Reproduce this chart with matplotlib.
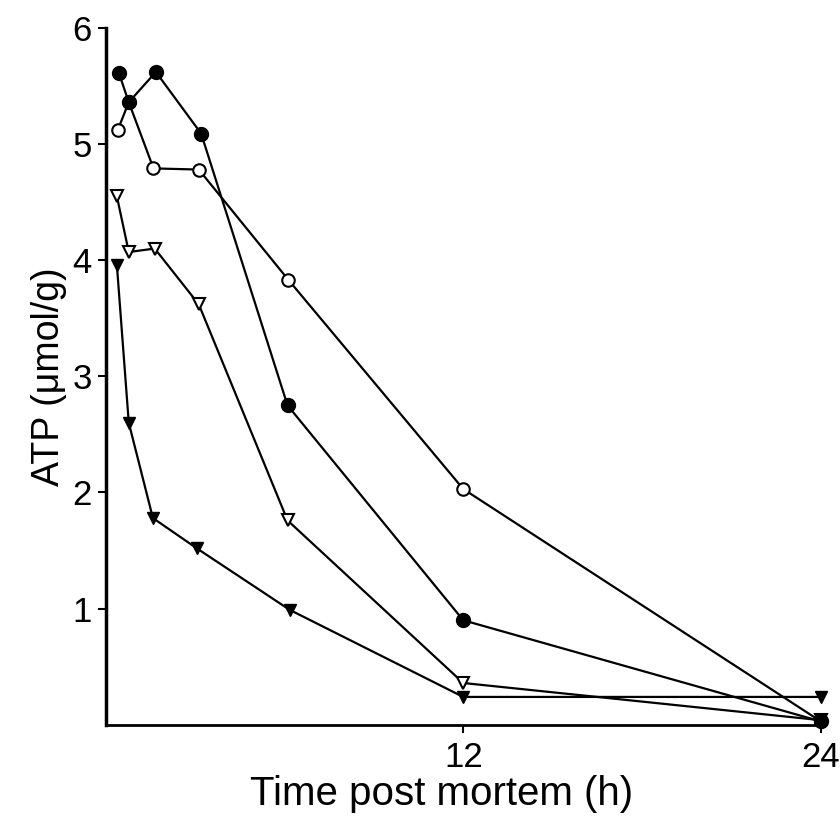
import matplotlib
matplotlib.use("Agg")
import matplotlib.pyplot as plt

plt.rcParams['font.family'] = ['Liberation Sans', 'DejaVu Sans']

# Data (time in h, ATP in umol/g)
t_filled_circle = [0.44, 0.77, 1.68, 3.2, 6.1, 12, 24]
atp_filled_circle = [5.61, 5.36, 5.62, 5.09, 2.75, 0.90, 0.03]

t_open_circle = [0.40, 0.77, 1.6, 3.12, 6.13, 12, 24]
atp_open_circle = [5.12, 5.36, 4.79, 4.78, 3.83, 2.03, 0.03]

t_open_tri = [0.37, 0.77, 1.64, 3.12, 6.1, 12, 24]
atp_open_tri = [4.55, 4.07, 4.10, 3.62, 1.76, 0.36, 0.04]

t_filled_tri = [0.37, 0.77, 1.58, 3.05, 6.17, 12, 24]
atp_filled_tri = [3.96, 2.60, 1.78, 1.52, 0.99, 0.24, 0.24]

xticks = [12, 24]
yticks = [1, 2, 3, 4, 5, 6]

fig = plt.figure(figsize=(8.4, 8.19), dpi=100)
ax = fig.add_axes([0.126, 0.115, 0.851, 0.851])

lw = 1.6
ax.plot(t_filled_tri, atp_filled_tri, '-', color='black', lw=lw, marker='v',
        markersize=8, markerfacecolor='black', markeredgecolor='black', clip_on=False, zorder=3)
ax.plot(t_open_tri, atp_open_tri, '-', color='black', lw=lw, marker='v',
        markersize=9, markerfacecolor='white', markeredgecolor='black', markeredgewidth=1.5,
        clip_on=False, zorder=3)
ax.plot(t_open_circle, atp_open_circle, '-', color='black', lw=lw, marker='o',
        markersize=9, markerfacecolor='white', markeredgecolor='black', markeredgewidth=1.5,
        clip_on=False, zorder=3)
ax.plot(t_filled_circle, atp_filled_circle, '-', color='black', lw=lw, marker='o',
        markersize=10, markerfacecolor='black', markeredgecolor='black', clip_on=False, zorder=4)

ax.set_xlim(0, 24)
ax.set_ylim(0, 6)
ax.set_xticks(xticks)
ax.set_xticklabels([str(v) for v in xticks])
ax.set_yticks(yticks)
ax.set_yticklabels([str(v) for v in yticks])

for s in ['top', 'right']:
    ax.spines[s].set_visible(False)
ax.spines['left'].set_linewidth(2.5)
ax.spines['bottom'].set_linewidth(2.0)

ax.tick_params(axis='both', direction='out', length=6, width=1.5, labelsize=25)
ax.tick_params(axis='x', pad=6)
ax.tick_params(axis='y', pad=4)

ax.set_xlabel('Time post mortem (h)', fontsize=29, labelpad=0)
ax.xaxis.set_label_coords(0.47, -0.072, transform=ax.transAxes)
ax.xaxis.label.set_va('top')
ax.set_ylabel('ATP (\u03bcmol/g)', fontsize=27, labelpad=4)

fig.savefig('out.png', dpi=100, facecolor='white')
